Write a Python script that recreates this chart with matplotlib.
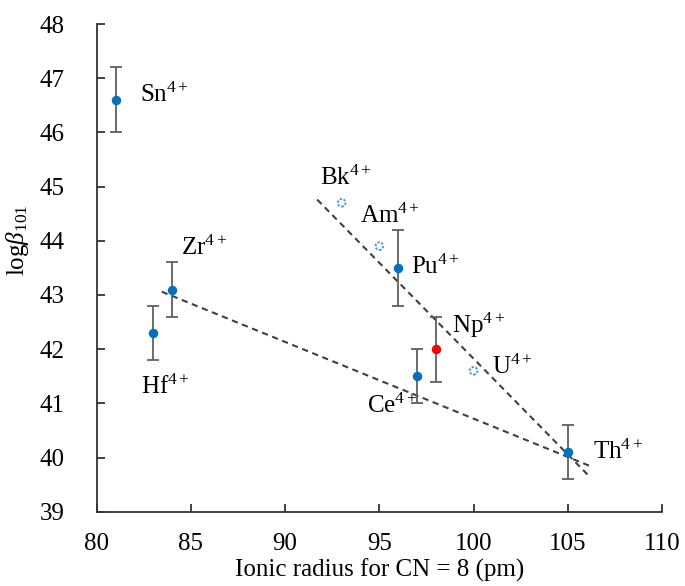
import matplotlib
matplotlib.use("Agg")
import matplotlib.pyplot as plt

plt.rcParams['font.family'] = ['Liberation Serif', 'DejaVu Serif']
plt.rcParams['mathtext.fontset'] = 'custom'
plt.rcParams['mathtext.rm'] = 'Liberation Serif'
plt.rcParams['mathtext.it'] = 'Liberation Serif:italic'

# Measured ions (filled markers, with uncertainties)
ions = ['Sn', 'Hf', 'Zr', 'Pu', 'Ce', 'Th']
radius = [81, 83, 84, 96, 97, 105]
logb = [46.6, 42.3, 43.1, 43.5, 41.5, 40.1]
err = [0.6, 0.5, 0.5, 0.7, 0.5, 0.5]

# Np value highlighted in red
np_radius = [98]
np_logb = [42.0]
np_err = [0.6]

# Estimated ions (open markers)
est_ions = ['Bk', 'Am', 'U']
est_radius = [93, 95, 100]
est_logb = [44.7, 43.9, 41.6]

# Trend lines (start/end points)
trend1_x = [83.45, 106.2]
trend1_y = [43.06, 39.84]
trend2_x = [91.7, 106.15]
trend2_y = [44.76, 39.65]

# Label anchor positions (text baseline, left edge)
label_names = ['Sn', 'Zr', 'Hf', 'Bk', 'Am', 'Pu', 'Np', 'U', 'Ce', 'Th']
label_x = [82.3, 84.48, 82.33, 91.85, 93.98, 96.68, 98.84, 101.0, 94.36, 106.36]
label_y = [46.56, 43.74, 41.17, 45.03, 44.33, 43.39, 42.29, 41.55, 40.82, 39.97]

FS = 18

fig = plt.figure(figsize=(6.85, 5.86), dpi=100)
ax = fig.add_axes([0.1412, 0.1268, 0.8252, 0.8322])

ax.plot(trend1_x, trend1_y, color='#404040', lw=1.5, dashes=(3, 2.2), zorder=1)
ax.plot(trend2_x, trend2_y, color='#404040', lw=1.5, dashes=(3, 2.2), zorder=1)

ax.errorbar(radius, logb, yerr=err, fmt='o', color='#0070C0', ms=5.8,
            ecolor='#606060', elinewidth=1.3, capsize=4, capthick=1.3, zorder=3)
ax.errorbar(np_radius, np_logb, yerr=np_err, fmt='o', color='#FF0000', ms=5.8,
            ecolor='#606060', elinewidth=1.3, capsize=4, capthick=1.3, zorder=3)
ax.scatter(est_radius, est_logb, s=30, facecolors='white', edgecolors='#4A9BE0',
           linewidths=1.4, linestyles=(0, (1.2, 0.8)), zorder=3)

for name, x, y in zip(label_names, label_x, label_y):
    ax.text(x, y, name + r'$^{4+}$', fontsize=FS, ha='left', va='baseline')

ax.set_xlim(80, 110)
ax.set_ylim(39, 48)
ax.set_xticks(range(80, 111, 5))
ax.set_yticks(range(39, 49))

for side in ['top', 'right']:
    ax.spines[side].set_visible(False)
for side in ['left', 'bottom']:
    ax.spines[side].set_color('#333333')
    ax.spines[side].set_linewidth(1.3)

ax.tick_params(axis='both', direction='in', length=6, width=1.3, color='#333333',
               labelsize=FS)
ax.tick_params(axis='y', pad=23)
ax.tick_params(axis='x', pad=15)

ax.set_xlabel('Ionic radius for CN = 8 (pm)', fontsize=FS)
ax.xaxis.set_label_coords(0.5, -0.096)
ax.set_ylabel(r'log$\beta_{101}$', fontsize=FS)
ax.yaxis.set_label_coords(-0.116, 0.557)

fig.savefig('out.png', dpi=100)
